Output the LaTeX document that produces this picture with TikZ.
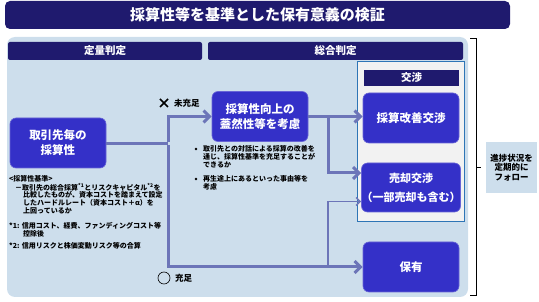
\documentclass[tikz,border=0pt]{standalone}
\usepackage{fontspec}
\setmainfont{Noto Sans CJK JP}
\usetikzlibrary{arrows.meta}
\definecolor{navy}{RGB}{31,26,110}
\definecolor{boxblue}{RGB}{52,48,200}
\definecolor{panelblue}{RGB}{205,222,236}
\definecolor{conn}{RGB}{108,117,184}
\definecolor{frameblue}{RGB}{46,117,182}
\definecolor{framefill}{RGB}{242,242,242}
\tikzset{
 bluebox/.style={fill=boxblue, draw=boxblue!75!white, line width=0.6pt, rounded corners=6pt,
   minimum width=96pt, minimum height=50pt, text=white,
   font=\bfseries\fontsize{11.5}{15}\selectfont, align=center, inner sep=0pt},
 hdr/.style={fill=navy, rounded corners=2pt, text=white,
   font=\bfseries\fontsize{10.5}{12}\selectfont, inner sep=0pt},
 small/.style={font=\bfseries\fontsize{7}{8}\selectfont, inner sep=0pt, anchor=west},
 conline/.style={draw=conn, line width=3pt},
 thinline/.style={draw=conn, line width=1.5pt},
 tip/.style={-{Straight Barb[length=6pt,width=12pt]}},
 thintip/.style={-{Straight Barb[length=4pt,width=8pt]}},
}
\begin{document}
\begin{tikzpicture}[x=1pt,y=-1pt]
\useasboundingbox (0,0) rectangle (539,302);
% title
\node[fill=navy, rounded corners=5pt, minimum width=505pt, minimum height=28pt, inner sep=0pt,
  text=white, font=\bfseries\fontsize{15}{18}\selectfont] (title) at (257.5,15) {採算性等を基準とした保有意義の検証};
% panel
\fill[panelblue, rounded corners=8pt] (7,37) rectangle (468,297);
\node[hdr, minimum width=194pt, minimum height=18pt] (h1) at (105,51) {定量判定};
\node[hdr, minimum width=255pt, minimum height=18pt] (h2) at (335.5,51) {総合判定};
% negotiation frame
\node[fill=framefill, draw=frameblue, line width=1pt, minimum width=107pt, minimum height=160pt, inner sep=0pt] (frame) at (410.5,142) {};
\node[hdr, minimum width=95pt, minimum height=16pt, rounded corners=0pt] (h3) at (411.5,78) {交渉};
% boxes
\node[bluebox] (b1) at (58,143) {取引先毎の\\採算性};
\node[bluebox] (b2) at (260,116.5) {採算性向上の\\蓋然性等を考慮};
\node[bluebox] (b3) at (411,118) {採算改善交渉};
\node[bluebox, minimum height=49pt, font=\bfseries\fontsize{11}{19}\selectfont] (b4) at (411,187.5) {売却交渉\\（一部売却も含む）};
\node[bluebox] (b5) at (411,267) {保有};
% follow box
\node[fill=panelblue, minimum width=51pt, minimum height=51pt, inner sep=0pt, align=center,
  font=\bfseries\fontsize{8.5}{9.5}\selectfont] (fol) at (511.5,167.5) {進捗状況を\\定期的に\\フォロー};
\draw[line width=0.6pt] (470,38) -- (476,38) -- (476,295) -- (470,295);
\draw[line width=0.6pt] (476,167) -- (481,167);
% connectors
\coordinate (j) at (168,144);
\coordinate (k) at (328,116.5);
\coordinate (m) at (328,267);
\draw[conline] (b1.east |- j) -- (j);
\draw[conline, tip] (168,142.5) |- (b2.west);
\draw[conline, tip] (168,145.5) |- (b5.west);
\draw[conline, tip] (b2.east) -- (b2.east -| b3.west);
\draw[conline, tip] (k) |- ([yshift=14.5pt]b4.west);
\draw[thinline, thintip] (m) |- ([yshift=-14pt]b4.west);
% labels
\draw[line width=1.6pt] (160,99) -- (168,107) (160,107) -- (168,99);
\node[small, font=\bfseries\fontsize{8.5}{8.5}\selectfont] (nf) at (174,103) {未充足};
\node[draw, circle, line width=0.6pt, minimum size=12pt, inner sep=0pt] (o) at (164,278) {};
\node[small, font=\bfseries\fontsize{8.5}{8.5}\selectfont] (ok) at (175,278) {充足};
% bullets
\fill (196,149) circle (1.4pt);
\fill (196,179) circle (1.4pt);
\node[small] (t1) at (203,149) {取引先との対話による採算の改善を};
\node[small] (t2) at (203,157) {通じ、採算性基準を充足することが};
\node[small] (t3) at (203,165) {できるか};
\node[small] (t4) at (203,179) {再生途上にあるといった事由等を};
\node[small] (t5) at (203,187) {考慮};
% left text
\node[small] (l1) at (9,179) {<採算性基準>};
\node[small] (l2) at (15,187) {－取引先の総合採算\textsuperscript{*1}とリスクキャピタル\textsuperscript{*2}を};
\node[small] (l3) at (23,195) {比較したものが、資本コストを踏まえて設定};
\node[small] (l4) at (23,203) {したハードルレート（資本コスト＋α）を};
\node[small] (l5) at (23,211) {上回っているか};
\node[small] (l6) at (9,226) {*1: 信用コスト、経費、ファンディングコスト等};
\node[small] (l7) at (23,234) {控除後};
\node[small] (l8) at (9,246) {*2: 信用リスクと株価変動リスク等の合算};
\end{tikzpicture}
\end{document}
